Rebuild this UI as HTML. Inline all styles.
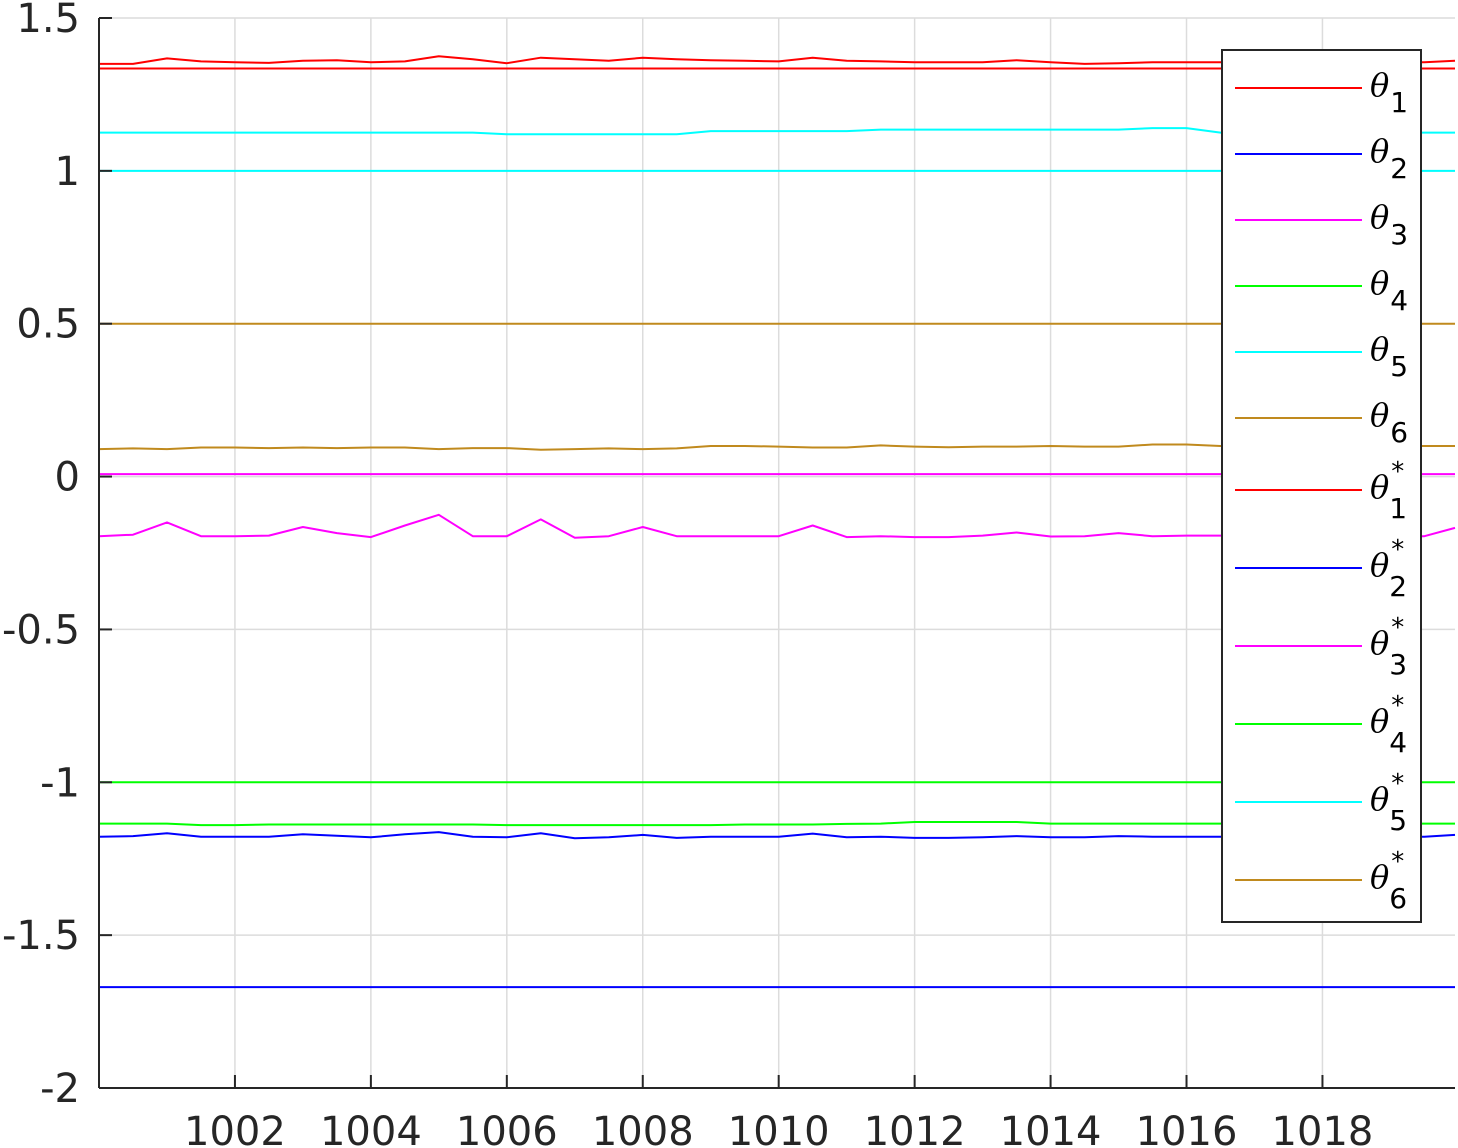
<!DOCTYPE html>
<html><head><meta charset="utf-8"><style>
html,body{margin:0;padding:0;background:#fff;}
svg{display:block;font-family:"DejaVu Sans","Liberation Sans",sans-serif;}
</style></head><body>
<svg id="chart" width="1458" height="1148" viewBox="0 0 1458 1148"></svg>
<script>
const xs = [];
for (let i = 0; i <= 40; i++) xs.push(1000 + i * 0.5);
const theta1 = [1.35,1.35,1.368,1.358,1.355,1.353,1.36,1.362,1.355,1.358,1.375,1.365,1.352,1.37,1.365,1.36,1.37,1.365,1.362,1.36,1.358,1.37,1.36,1.358,1.355,1.355,1.355,1.362,1.355,1.35,1.352,1.355,1.355,1.355,1.355,1.355,1.355,1.355,1.355,1.355,1.36];
const theta2 = [-1.178,-1.176,-1.167,-1.178,-1.178,-1.178,-1.17,-1.175,-1.18,-1.17,-1.163,-1.178,-1.18,-1.167,-1.183,-1.18,-1.172,-1.182,-1.178,-1.178,-1.178,-1.168,-1.18,-1.178,-1.182,-1.182,-1.18,-1.176,-1.18,-1.18,-1.176,-1.178,-1.178,-1.178,-1.178,-1.178,-1.178,-1.178,-1.178,-1.178,-1.172];
const theta3 = [-0.195,-0.19,-0.15,-0.195,-0.195,-0.193,-0.165,-0.185,-0.198,-0.16,-0.125,-0.195,-0.195,-0.14,-0.2,-0.195,-0.165,-0.195,-0.195,-0.195,-0.195,-0.16,-0.198,-0.195,-0.198,-0.198,-0.193,-0.183,-0.196,-0.195,-0.185,-0.195,-0.193,-0.193,-0.195,-0.195,-0.195,-0.195,-0.195,-0.195,-0.168];
const theta4 = [-1.135,-1.135,-1.135,-1.14,-1.14,-1.138,-1.138,-1.138,-1.138,-1.138,-1.138,-1.138,-1.14,-1.14,-1.14,-1.14,-1.14,-1.14,-1.14,-1.138,-1.138,-1.138,-1.136,-1.135,-1.13,-1.13,-1.13,-1.13,-1.135,-1.135,-1.135,-1.135,-1.135,-1.135,-1.135,-1.135,-1.135,-1.135,-1.135,-1.135,-1.135];
const theta5 = [1.125,1.125,1.125,1.125,1.125,1.125,1.125,1.125,1.125,1.125,1.125,1.125,1.12,1.12,1.12,1.12,1.12,1.12,1.13,1.13,1.13,1.13,1.13,1.135,1.135,1.135,1.135,1.135,1.135,1.135,1.135,1.14,1.14,1.125,1.125,1.125,1.125,1.125,1.125,1.125,1.125];
const theta6 = [0.09,0.092,0.09,0.095,0.095,0.093,0.095,0.093,0.095,0.095,0.09,0.093,0.093,0.088,0.09,0.092,0.09,0.092,0.1,0.1,0.098,0.095,0.095,0.102,0.098,0.096,0.098,0.098,0.1,0.098,0.098,0.105,0.105,0.1,0.1,0.1,0.1,0.1,0.1,0.1,0.1];
const trueValues = [1.3347,-1.67,0.008,-1.0,1.0,0.5];
const colors = ['#ff0000','#0000ff','#ff00ff','#00ff00','#00ffff','#c08a1e'];
const yTicks = [1.5,1,0.5,0,-0.5,-1,-1.5,-2];
const yTickLabels = ['1.5','1','0.5','0','-0.5','-1','-1.5','-2'];
const xTicks = [1002,1004,1006,1008,1010,1012,1014,1016,1018];

const L=99,R=1455,T=18,B=1088,XMIN=1000,XMAX=1019.95,YMIN=-2,YMAX=1.5;
const sx=v=>L+(v-XMIN)/(XMAX-XMIN)*(R-L);
const sy=v=>B-(v-YMIN)/(YMAX-YMIN)*(B-T);
const svg=document.getElementById('chart');
const NS='http://www.w3.org/2000/svg';
function mk(tag,attrs,parent){const e=document.createElementNS(NS,tag);for(const k in attrs)e.setAttribute(k,attrs[k]);(parent||svg).appendChild(e);return e;}

const grid=mk('g',{});


yTicks.forEach(v=>{mk('line',{x1:L,x2:R,y1:sy(v),y2:sy(v),stroke:'#dcdcdc','stroke-width':1.5},grid);});
xTicks.forEach(v=>{mk('line',{x1:sx(v),x2:sx(v),y1:T,y2:B,stroke:'#dcdcdc','stroke-width':1.5},grid);});

const series=[theta1,theta2,theta3,theta4,theta5,theta6];
trueValues.forEach((v,i)=>{
  const l=mk('line',{x1:L,x2:R,y1:sy(v),y2:sy(v),stroke:colors[i],'stroke-width':2});
  
  
});
series.forEach((s,i)=>{
  const d=s.map((v,j)=>(j?'L':'M')+Math.min(sx(xs[j]),R).toFixed(1)+' '+sy(v).toFixed(1)).join(' ');
  const p=mk('path',{d:d,fill:'none',stroke:colors[i],'stroke-width':2,'stroke-linejoin':'round'});
  
  
});

const ax=mk('g',{});


mk('line',{x1:L,x2:L,y1:T,y2:B,stroke:'#262626','stroke-width':2},ax);
mk('line',{x1:L,x2:R,y1:B,y2:B,stroke:'#262626','stroke-width':2},ax);
yTicks.forEach((v,i)=>{
  mk('line',{x1:L,x2:L+13,y1:sy(v),y2:sy(v),stroke:'#262626','stroke-width':2},ax);
  const t=mk('text',{x:L-19,y:sy(v)+14,'text-anchor':'end','font-size':40,fill:'#262626'},ax);
  t.textContent=yTickLabels[i];
  
  
});
xTicks.forEach(v=>{
  mk('line',{x1:sx(v),x2:sx(v),y1:B,y2:B-13,stroke:'#262626','stroke-width':2},ax);
  const t=mk('text',{x:sx(v),y:1145,'text-anchor':'middle','font-size':40,fill:'#262626'},ax);
  t.textContent=String(v);
  
  
});

const lg=mk('g',{});


mk('rect',{x:1222,y:50,width:199,height:872,fill:'#fff',stroke:'#262626','stroke-width':2},lg);
const ys=[88,154,220,286,352,418,490,568,646,724,802,880];
ys.forEach((y,k)=>{
  const i=k%6, star=k>=6;
  mk('line',{x1:1235,x2:1362,y1:y,y2:y,stroke:colors[i],'stroke-width':2},lg);
  const t=mk('text',{x:1370,y:y+8,'font-size':32,fill:'#000'},lg);
  t.innerHTML='<tspan font-family="DejaVu Serif, Liberation Serif, serif" font-style="italic">θ</tspan>'+
    (star?'<tspan dx="2" dy="-18" font-size="26">*</tspan><tspan dx="-15" dy="38" font-size="28">'+(i+1)+'</tspan>':'<tspan dx="1" dy="16" font-size="28">'+(i+1)+'</tspan>');
  
  
});
</script>
</body></html>
